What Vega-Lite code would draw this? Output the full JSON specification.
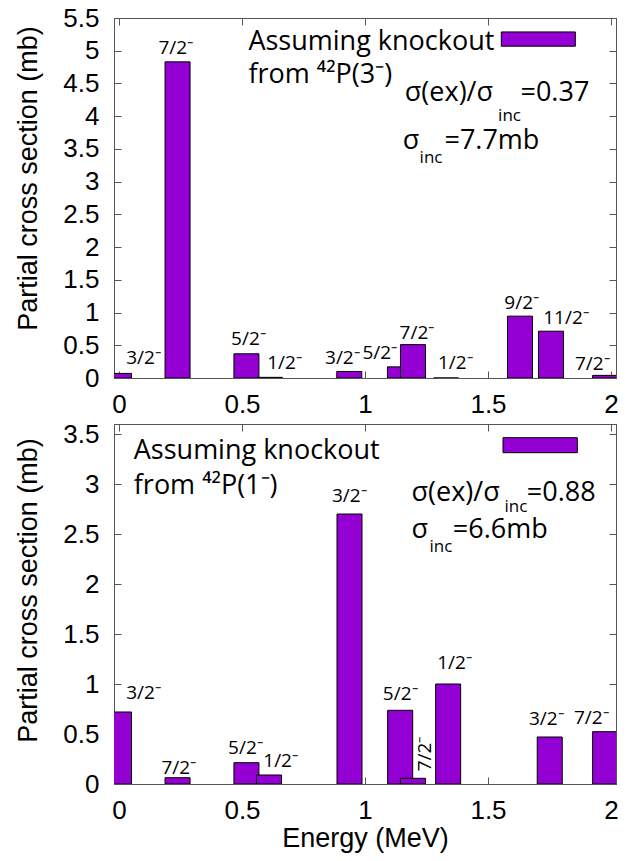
{
  "$schema": "https://vega.github.io/schema/vega-lite/v6.json",
  "background": "white",
  "padding": {"left": 14, "top": 4, "right": 5, "bottom": 2},
  "bounds": "flush",
  "spacing": 46,
  "datasets": {
    "top": [
      {"E": 0, "v": 0.07, "J": "3/2⁻", "lx": 0.1, "ly": 0.305},
      {"E": 0.238, "v": 4.83, "J": "7/2⁻", "lx": 0.231, "ly": 5.04},
      {"E": 0.518, "v": 0.37, "J": "5/2⁻", "lx": 0.526, "ly": 0.595},
      {"E": 0.613, "v": 0.01, "J": "1/2⁻", "lx": 0.673, "ly": 0.229},
      {"E": 0.936, "v": 0.1, "J": "3/2⁻", "lx": 0.908, "ly": 0.305},
      {"E": 1.142, "v": 0.17, "J": "5/2⁻", "lx": 1.06, "ly": 0.38},
      {"E": 1.195, "v": 0.51, "J": "7/2⁻", "lx": 1.211, "ly": 0.687},
      {"E": 1.33, "v": 0, "J": "1/2⁻", "lx": 1.367, "ly": 0.229},
      {"E": 1.63, "v": 0.945, "J": "9/2⁻", "lx": 1.637, "ly": 1.145},
      {"E": 1.756, "v": 0.715, "J": "11/2⁻", "lx": 1.817, "ly": 0.916},
      {"E": 1.976, "v": 0.04, "J": "7/2⁻", "lx": 1.924, "ly": 0.214}
    ],
    "bottom": [
      {"E": 0, "v": 0.72, "J": "3/2⁻", "lx": 0.1, "ly": 0.91, "rot": false},
      {"E": 0.238, "v": 0.063, "J": "7/2⁻", "lx": 0.243, "ly": 0.163, "rot": false},
      {"E": 0.518, "v": 0.213, "J": "5/2⁻", "lx": 0.514, "ly": 0.363, "rot": false},
      {"E": 0.61, "v": 0.09, "J": "1/2⁻", "lx": 0.657, "ly": 0.23, "rot": false},
      {"E": 0.937, "v": 2.7, "J": "3/2⁻", "lx": 0.936, "ly": 2.88, "rot": false},
      {"E": 1.143, "v": 0.737, "J": "5/2⁻", "lx": 1.143, "ly": 0.897, "rot": false},
      {"E": 1.195, "v": 0.057, "J": "7/2⁻", "lx": 1.243, "ly": 0.3, "rot": true},
      {"E": 1.338, "v": 1.0, "J": "1/2⁻", "lx": 1.364, "ly": 1.213, "rot": false},
      {"E": 1.751, "v": 0.47, "J": "3/2⁻", "lx": 1.737, "ly": 0.647, "rot": false},
      {"E": 1.976, "v": 0.523, "J": "7/2⁻", "lx": 1.92, "ly": 0.663, "rot": false}
    ],
    "topNotes": [
      {"x": 0.526, "y": 5.018, "t": "Assuming knockout", "small": false},
      {"x": 0.526, "y": 4.508, "t": "from ⁴²P(3⁻)", "small": false},
      {"x": 1.162, "y": 4.23, "t": "σ(ex)/σ", "small": false},
      {"x": 1.541, "y": 3.93, "t": "inc", "small": true},
      {"x": 1.632, "y": 4.23, "t": "=0.37", "small": false},
      {"x": 1.153, "y": 3.5, "t": "σ", "small": false},
      {"x": 1.222, "y": 3.29, "t": "inc", "small": true},
      {"x": 1.323, "y": 3.5, "t": "=7.7mb", "small": false}
    ],
    "bottomNotes": [
      {"x": 0.06, "y": 3.247, "t": "Assuming knockout", "small": false},
      {"x": 0.06, "y": 2.897, "t": "from ⁴²P(1⁻)", "small": false},
      {"x": 1.189, "y": 2.83, "t": "σ(ex)/σ", "small": false},
      {"x": 1.567, "y": 2.72, "t": "inc", "small": true},
      {"x": 1.658, "y": 2.83, "t": "=0.88", "small": false},
      {"x": 1.189, "y": 2.463, "t": "σ", "small": false},
      {"x": 1.262, "y": 2.32, "t": "inc", "small": true},
      {"x": 1.357, "y": 2.463, "t": "=6.6mb", "small": false}
    ],
    "topKey": [{"x1": 1.554, "x2": 1.855, "y1": 5.069, "y2": 5.287}],
    "bottomKey": [{"x1": 1.561, "x2": 1.863, "y1": 3.313, "y2": 3.463}]
  },
  "vconcat": [
    {
      "width": 502,
      "height": 360,
      "layer": [
        {
          "data": {"name": "top"},
          "mark": {"type": "bar", "width": 25, "color": "#9400d3", "stroke": "#000", "strokeWidth": 1, "clip": true},
          "encoding": {
            "x": {"field": "E", "type": "quantitative", "scale": {"domain": [0, 2], "nice": false},
                  "axis": {"orient": "bottom", "values": [0, 0.5, 1, 1.5, 2], "format": "~g", "title": null}},
            "y": {"field": "v", "type": "quantitative", "scale": {"domain": [0, 5.5], "nice": false},
                  "axis": {"orient": "left", "values": [0, 0.5, 1, 1.5, 2, 2.5, 3, 3.5, 4, 4.5, 5, 5.5], "format": "~g", "title": "Partial cross section (mb)", "titleY": 160}}
          }
        },
        {
          "data": {"name": "top"},
          "mark": {"type": "point", "opacity": 0},
          "encoding": {
            "x": {"field": "E", "type": "quantitative", "scale": {"domain": [0, 2], "nice": false},
                  "axis": {"orient": "top", "values": [0, 0.5, 1, 1.5, 2], "labels": false, "title": null}},
            "y": {"field": "v", "type": "quantitative", "scale": {"domain": [0, 5.5], "nice": false},
                  "axis": {"orient": "right", "values": [0, 0.5, 1, 1.5, 2, 2.5, 3, 3.5, 4, 4.5, 5, 5.5], "labels": false, "title": null}}
          }
        },
        {
          "data": {"name": "topKey"},
          "mark": {"type": "rect", "color": "#9400d3", "stroke": "#000", "strokeWidth": 1},
          "encoding": {
            "x": {"field": "x1", "type": "quantitative", "scale": {"domain": [0, 2], "nice": false}, "axis": null},
            "x2": {"field": "x2"},
            "y": {"field": "y1", "type": "quantitative", "scale": {"domain": [0, 5.5], "nice": false}, "axis": null},
            "y2": {"field": "y2"}
          }
        },
        {
          "data": {"name": "top"},
          "mark": {"type": "text", "font": "Open Sans", "fontSize": 19, "align": "center", "baseline": "middle", "color": "#000"},
          "encoding": {
            "x": {"field": "lx", "type": "quantitative", "scale": {"domain": [0, 2], "nice": false}, "axis": null},
            "y": {"field": "ly", "type": "quantitative", "scale": {"domain": [0, 5.5], "nice": false}, "axis": null},
            "text": {"field": "J"}
          }
        },
        {
          "data": {"name": "topNotes"},
          "transform": [{"filter": "!datum.small"}],
          "mark": {"type": "text", "font": "Open Sans", "fontSize": 27, "align": "left", "baseline": "alphabetic", "color": "#000"},
          "encoding": {
            "x": {"field": "x", "type": "quantitative", "scale": {"domain": [0, 2], "nice": false}, "axis": null},
            "y": {"field": "y", "type": "quantitative", "scale": {"domain": [0, 5.5], "nice": false}, "axis": null},
            "text": {"field": "t"}
          }
        },
        {
          "data": {"name": "topNotes"},
          "transform": [{"filter": "datum.small"}],
          "mark": {"type": "text", "font": "Open Sans", "fontSize": 17, "align": "left", "baseline": "alphabetic", "color": "#000"},
          "encoding": {
            "x": {"field": "x", "type": "quantitative", "scale": {"domain": [0, 2], "nice": false}, "axis": null},
            "y": {"field": "y", "type": "quantitative", "scale": {"domain": [0, 5.5], "nice": false}, "axis": null},
            "text": {"field": "t"}
          }
        }
      ],
      "resolve": {"axis": {"x": "independent", "y": "independent"}}
    },
    {
      "width": 502,
      "height": 360,
      "layer": [
        {
          "data": {"name": "bottom"},
          "mark": {"type": "bar", "width": 25, "color": "#9400d3", "stroke": "#000", "strokeWidth": 1, "clip": true},
          "encoding": {
            "x": {"field": "E", "type": "quantitative", "scale": {"domain": [0, 2], "nice": false},
                  "axis": {"orient": "bottom", "values": [0, 0.5, 1, 1.5, 2], "format": "~g", "title": "Energy (MeV)"}},
            "y": {"field": "v", "type": "quantitative", "scale": {"domain": [0, 3.6], "nice": false},
                  "axis": {"orient": "left", "values": [0, 0.5, 1, 1.5, 2, 2.5, 3, 3.5], "format": "~g", "title": "Partial cross section (mb)", "titleY": 166}}
          }
        },
        {
          "data": {"name": "bottom"},
          "mark": {"type": "point", "opacity": 0},
          "encoding": {
            "x": {"field": "E", "type": "quantitative", "scale": {"domain": [0, 2], "nice": false},
                  "axis": {"orient": "top", "values": [0, 0.5, 1, 1.5, 2], "labels": false, "title": null}},
            "y": {"field": "v", "type": "quantitative", "scale": {"domain": [0, 3.6], "nice": false},
                  "axis": {"orient": "right", "values": [0, 0.5, 1, 1.5, 2, 2.5, 3, 3.5], "labels": false, "title": null}}
          }
        },
        {
          "data": {"name": "bottomKey"},
          "mark": {"type": "rect", "color": "#9400d3", "stroke": "#000", "strokeWidth": 1},
          "encoding": {
            "x": {"field": "x1", "type": "quantitative", "scale": {"domain": [0, 2], "nice": false}, "axis": null},
            "x2": {"field": "x2"},
            "y": {"field": "y1", "type": "quantitative", "scale": {"domain": [0, 3.6], "nice": false}, "axis": null},
            "y2": {"field": "y2"}
          }
        },
        {
          "data": {"name": "bottom"},
          "transform": [{"filter": "!datum.rot"}],
          "mark": {"type": "text", "font": "Open Sans", "fontSize": 19, "align": "center", "baseline": "middle", "color": "#000"},
          "encoding": {
            "x": {"field": "lx", "type": "quantitative", "scale": {"domain": [0, 2], "nice": false}, "axis": null},
            "y": {"field": "ly", "type": "quantitative", "scale": {"domain": [0, 3.6], "nice": false}, "axis": null},
            "text": {"field": "J"}
          }
        },
        {
          "data": {"name": "bottom"},
          "transform": [{"filter": "datum.rot"}],
          "mark": {"type": "text", "font": "Open Sans", "fontSize": 19, "align": "center", "baseline": "middle", "angle": 270, "color": "#000"},
          "encoding": {
            "x": {"field": "lx", "type": "quantitative", "scale": {"domain": [0, 2], "nice": false}, "axis": null},
            "y": {"field": "ly", "type": "quantitative", "scale": {"domain": [0, 3.6], "nice": false}, "axis": null},
            "text": {"field": "J"}
          }
        },
        {
          "data": {"name": "bottomNotes"},
          "transform": [{"filter": "!datum.small"}],
          "mark": {"type": "text", "font": "Open Sans", "fontSize": 27, "align": "left", "baseline": "alphabetic", "color": "#000"},
          "encoding": {
            "x": {"field": "x", "type": "quantitative", "scale": {"domain": [0, 2], "nice": false}, "axis": null},
            "y": {"field": "y", "type": "quantitative", "scale": {"domain": [0, 3.6], "nice": false}, "axis": null},
            "text": {"field": "t"}
          }
        },
        {
          "data": {"name": "bottomNotes"},
          "transform": [{"filter": "datum.small"}],
          "mark": {"type": "text", "font": "Open Sans", "fontSize": 17, "align": "left", "baseline": "alphabetic", "color": "#000"},
          "encoding": {
            "x": {"field": "x", "type": "quantitative", "scale": {"domain": [0, 2], "nice": false}, "axis": null},
            "y": {"field": "y", "type": "quantitative", "scale": {"domain": [0, 3.6], "nice": false}, "axis": null},
            "text": {"field": "t"}
          }
        }
      ],
      "resolve": {"axis": {"x": "independent", "y": "independent"}}
    }
  ],
  "config": {
    "font": "Liberation Sans",
    "view": {"stroke": "#555", "strokeWidth": 1},
    "axis": {
      "grid": false,
      "domainColor": "#555",
      "domainWidth": 1,
      "tickColor": "#555",
      "tickWidth": 1,
      "tickSize": -7,
      "labelFont": "Liberation Sans",
      "labelFontSize": 26,
      "labelColor": "#000",
      "labelPadding": 20,
      "titleFont": "Liberation Sans",
      "titleFontSize": 27,
      "titleFontWeight": "normal",
      "titleColor": "#000"
    },
    "axisLeft": {"labelPadding": 22, "titlePadding": 20},
    "axisBottom": {"titlePadding": 2}
  }
}
